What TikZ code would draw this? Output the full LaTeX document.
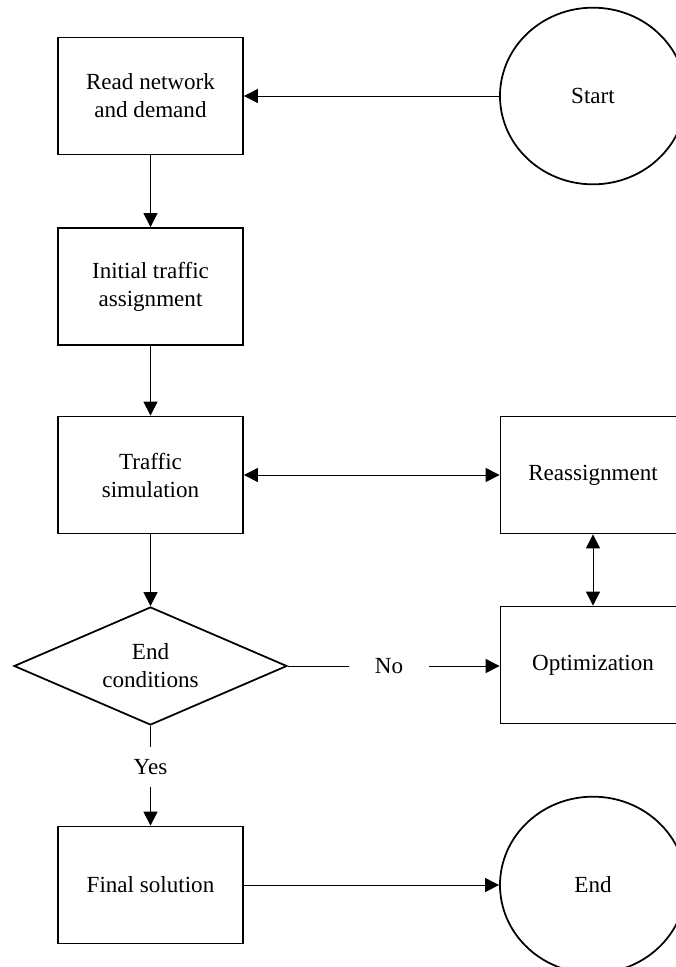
\documentclass[tikz,border=0pt]{standalone}
\usepackage{fontspec}
\setmainfont{Liberation Serif}
\usetikzlibrary{shapes.geometric,arrows.meta}

\begin{document}
\begin{tikzpicture}[x=0.03cm,y=-0.03cm,
    every node/.style={font=\fontsize{19.7}{23.9}\selectfont,align=center},
    stepbox/.style={draw,rectangle,line width=1.5pt,minimum width=5.55cm,minimum height=3.51cm,inner sep=0pt},
    terminal/.style={draw,ellipse,line width=1.5pt,minimum width=5.58cm,minimum height=5.3cm,inner sep=0pt},
    decision/.style={draw,diamond,aspect=2.3,line width=1.5pt,minimum width=8.19cm,minimum height=3.54cm,inner sep=0pt},
    answer/.style={minimum width=2.4cm,minimum height=1.2cm,inner sep=0pt},
    flow/.style={line width=0.8pt,-{Triangle[length=0.42cm,width=0.42cm]}},
    twoway/.style={line width=0.8pt,{Triangle[length=0.42cm,width=0.42cm]}-{Triangle[length=0.42cm,width=0.42cm]}}]

    \useasboundingbox (0,0) rectangle (676,967);
    \clip (0,0) rectangle (676,967);

    % left column
    \node[stepbox] (nodeRead) at (150.5,96) {Read network\\and demand};
    \node[stepbox] (nodeInit) at (150.5,286.5) {Initial traffic\\assignment};
    \node[stepbox] (nodeSim) at (150.5,475) {Traffic\\simulation};
    \node[decision] (nodeCond) at (150.5,666) {End\\conditions};
    \node[stepbox] (nodeFinal) at (150.5,885) {Final solution};

    % right column
    \node[terminal] (nodeStart) at (593,96) {Start};
    \node[stepbox] (nodeReassign) at (593,475) {Reassignment};
    \node[stepbox] (nodeOpt) at (593,665) {Optimization};
    \node[terminal] (nodeEnd) at (593,885) {End};

    \node[answer] (nodeNo) at (389,666) {No};
    \node[answer] (nodeYes) at (150.5,767) {Yes};

    \draw[flow] (nodeStart) -- (nodeRead);
    \draw[flow] (nodeRead) -- (nodeInit);
    \draw[flow] (nodeInit) -- (nodeSim);
    \draw[twoway] (nodeSim) -- (nodeReassign);
    \draw[flow] (nodeSim) -- (nodeCond);
    \draw[twoway] (nodeReassign) -- (nodeOpt);
    \draw[line width=0.8pt] (nodeCond) -- (nodeNo);
    \draw[flow] (nodeNo) -- (nodeNo -| nodeOpt.west);
    \draw[line width=0.8pt] (nodeCond) -- (nodeYes);
    \draw[flow] (nodeYes) -- (nodeFinal);
    \draw[flow] (nodeFinal) -- (nodeEnd);

\end{tikzpicture}
\end{document}
